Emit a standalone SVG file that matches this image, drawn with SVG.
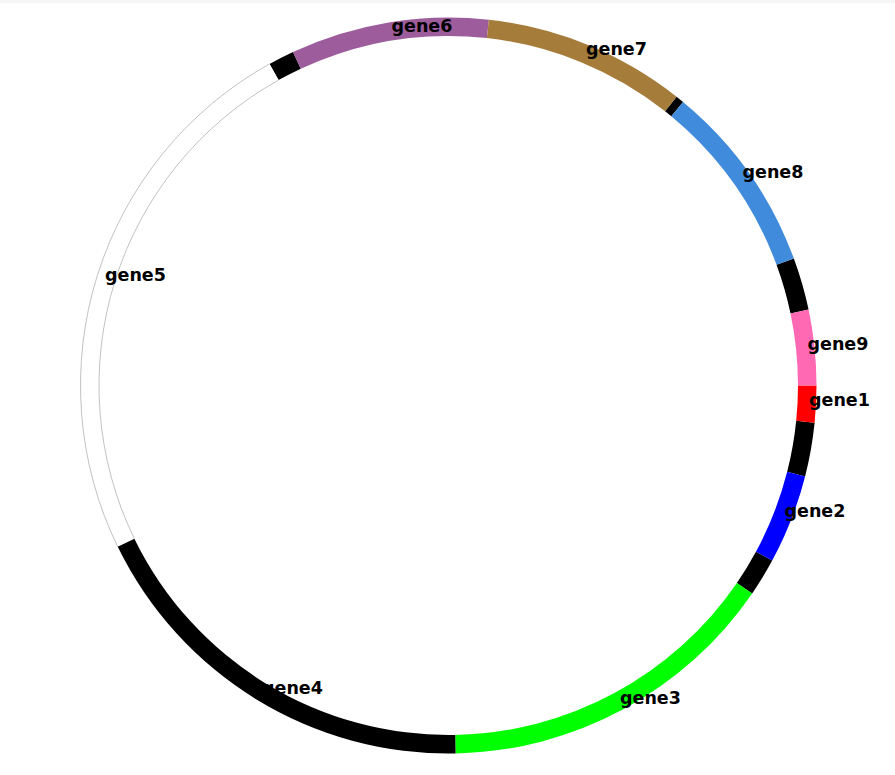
<svg xmlns="http://www.w3.org/2000/svg" width="895" height="775" viewBox="0 0 895 775">
  <style>
    .lbl { font-family: "DejaVu Sans", "Verdana", sans-serif; font-weight: bold; font-size: 17.5px; fill: #000000; }
    .gap { fill: #000000; }
    .edge { fill: none; stroke: #a8a8a8; stroke-width: 0.7; }
  </style>
  <rect x="0" y="0" width="895" height="775" fill="#ffffff"/>
  <rect x="0" y="0" width="895" height="3" fill="#f6f6f6"/>

  <g id="backbone">
    <path class="gap" d="M796.21 420.82 L814.62 422.69 A368 368 0 0 1 805.10 476.40 L787.17 471.83 A349.5 349.5 0 0 0 796.21 420.82 Z"/>
    <path class="gap" d="M772.21 560.53 A368 368 0 0 1 752.14 593.41 L736.88 582.96 A349.5 349.5 0 0 0 755.94 551.73 Z"/>
    <path class="gap" d="M269.55 63.94 A368 368 0 0 1 292.98 51.98 L300.79 68.74 A349.5 349.5 0 0 0 278.54 80.11 Z"/>
    <path class="gap" d="M676.54 96.67 A368 368 0 0 1 683.07 101.95 L671.28 116.21 A349.5 349.5 0 0 0 665.08 111.19 Z"/>
    <path class="gap" d="M793.86 258.43 A368 368 0 0 1 808.59 309.62 L790.49 313.43 A349.5 349.5 0 0 0 776.50 264.82 Z"/>
  </g>

  <g id="gene5">
    <path fill="#ffffff" d="M117.75 546.82 A368 368 0 0 1 269.55 63.94 L278.54 80.11 A349.5 349.5 0 0 0 134.37 538.71 Z"/>
    <path class="edge" d="M117.75 546.82 A368 368 0 0 1 269.55 63.94"/>
    <path class="edge" d="M134.37 538.71 A349.5 349.5 0 0 1 278.54 80.11"/>
  </g>
  <g id="gene1">
    <path fill="#ff0000" d="M816.5 385.5 A368 368 0 0 1 814.62 422.69 L796.21 420.82 A349.5 349.5 0 0 0 798 385.5 Z"/>
  </g>
  <g id="gene2">
    <path fill="#0000ff" d="M805.10 476.40 A368 368 0 0 1 772.21 560.53 L755.94 551.73 A349.5 349.5 0 0 0 787.17 471.83 Z"/>
  </g>
  <g id="gene3">
    <path fill="#00ff00" d="M752.14 593.41 A368 368 0 0 1 455.56 753.43 L455.21 734.94 A349.5 349.5 0 0 0 736.88 582.96 Z"/>
  </g>
  <g id="gene4">
    <path fill="#000000" d="M455.56 753.43 A368 368 0 0 1 117.75 546.82 L134.37 538.71 A349.5 349.5 0 0 0 455.21 734.94 Z"/>
  </g>
  <g id="gene6">
    <path fill="#9d5d9d" d="M292.98 51.98 A368 368 0 0 1 488.88 19.72 L486.85 38.11 A349.5 349.5 0 0 0 300.79 68.74 Z"/>
  </g>
  <g id="gene7">
    <path fill="#a67c3b" d="M488.88 19.72 A368 368 0 0 1 676.54 96.67 L665.08 111.19 A349.5 349.5 0 0 0 486.85 38.11 Z"/>
  </g>
  <g id="gene8">
    <path fill="#418bdd" d="M683.07 101.95 A368 368 0 0 1 793.86 258.43 L776.50 264.82 A349.5 349.5 0 0 0 671.28 116.21 Z"/>
  </g>
  <g id="gene9">
    <path fill="#ff69b4" d="M808.59 309.62 A368 368 0 0 1 816.5 385.5 L798 385.5 A349.5 349.5 0 0 0 790.49 313.43 Z"/>
  </g>

  <g id="labels">
    <text class="lbl" x="809" y="406">gene1</text>
    <text class="lbl" x="784.5" y="517">gene2</text>
    <text class="lbl" x="620" y="704">gene3</text>
    <text class="lbl" x="262" y="694">gene4</text>
    <text class="lbl" x="105" y="280.5">gene5</text>
    <text class="lbl" x="391.5" y="32">gene6</text>
    <text class="lbl" x="586" y="55">gene7</text>
    <text class="lbl" x="742.5" y="178">gene8</text>
    <text class="lbl" x="807.5" y="350">gene9</text>
  </g>
</svg>
